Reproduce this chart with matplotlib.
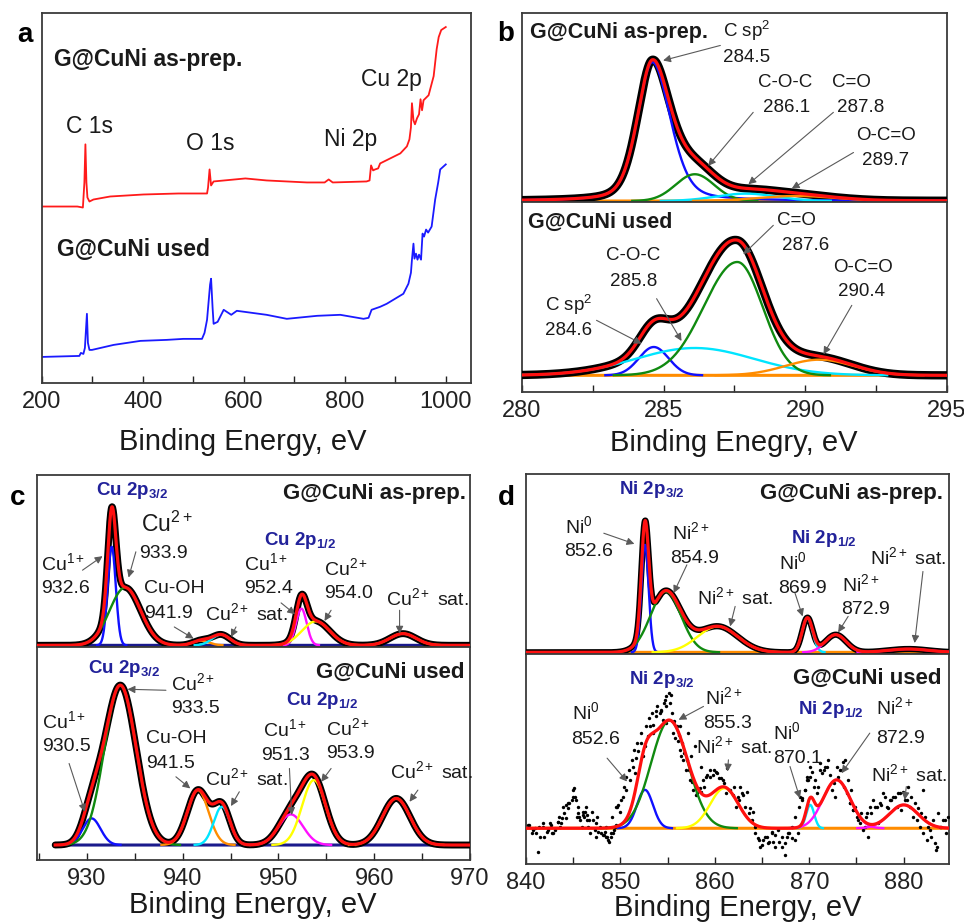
import numpy as np
import matplotlib
matplotlib.use('Agg')
import matplotlib.pyplot as plt
from matplotlib.ticker import MultipleLocator

plt.rcParams['font.family'] = ['Liberation Sans', 'DejaVu Sans']
plt.rcParams['mathtext.fontset'] = 'custom'
plt.rcParams['mathtext.rm'] = 'Liberation Sans'
plt.rcParams['mathtext.it'] = 'Liberation Sans:italic'
plt.rcParams['mathtext.bf'] = 'Liberation Sans:bold'

# ---- survey spectra (a) ----
a_prep_be = [200, 270, 281, 284, 286, 288, 290, 294, 302, 335, 401, 470, 527, 529, 532, 535, 540,
             603, 645, 725, 760, 768, 776, 843, 849, 852, 856, 860, 866, 870, 910, 923, 928, 931,
             933, 936, 939, 943, 947, 950, 953, 956, 960, 966, 976, 982, 986, 991, 1000]
a_prep_int = [176, 176, 175, 200, 238, 200, 185, 181, 183, 186, 188, 189, 189, 195, 213, 197, 201,
              204, 202, 200, 200, 203, 200, 201, 202, 217, 212, 213, 214, 219, 229, 236, 243, 255,
              279, 262, 258, 264, 268, 283, 272, 282, 284, 287, 306, 333, 345, 352, 355]
a_used_be = [200, 274, 277, 282, 285, 289, 291, 294, 299, 342, 395, 447, 480, 517, 522, 527, 533,
             535, 538, 540, 548, 560, 575, 586, 645, 685, 745, 791, 837, 847, 853, 870, 883, 916,
             926, 931, 933, 936, 938, 941, 944, 947, 951, 954, 957, 961, 965, 972, 979, 985, 989, 1000]
a_used_int = [26, 27, 30, 29, 35, 69, 40, 33, 33, 38, 42, 43, 44, 44, 50, 63, 98,
              104, 75, 59, 61, 73, 68, 72, 68, 64, 67, 68, 64, 65, 73, 76, 79, 89,
              99, 110, 123, 139, 124, 129, 123, 128, 123, 149, 146, 153, 150, 156, 183, 200, 213, 218]

# ---- C 1s fits (b): centre, height, fwhm (low-BE side / high-BE side), lorentz fraction ----
b_prep_center = [284.6, 286.1, 287.9, 289.7]
b_prep_height = [415, 80, 22, 15]
b_prep_fwhm = [1.25, 1.6, 2.5, 3.2]
b_prep_fwhm_r = [1.5, 1.6, 2.5, 3.2]
b_prep_mix = [0.35, 0.0, 0.0, 0.0]
b_used_center = [284.65, 286.1, 287.6, 290.5]
b_used_height = [85, 82, 340, 47]
b_used_fwhm = [1.23, 4.9, 2.8, 2.8]
b_used_fwhm_r = [1.23, 4.9, 2.1, 2.8]
b_used_mix = [0.0, 0.0, 0.0, 0.0]

# ---- Cu 2p fits (c) ----
c_prep_center = [932.6, 934.0, 941.9, 944.0, 952.4, 953.9, 963.0]
c_prep_height = [295, 173, 14, 32, 110, 72, 35]
c_prep_fwhm = [1.0, 3.8, 2.0, 2.2, 1.3, 3.4, 3.2]
c_used_center = [930.5, 933.5, 941.6, 944.1, 951.3, 953.7, 962.3]
c_used_height = [80, 480, 165, 115, 92, 195, 140]
c_used_fwhm = [2.2, 3.9, 2.6, 2.0, 3.0, 2.9, 3.4]

# ---- Ni 2p fits (d) ----
d_prep_center = [852.6, 854.8, 860.3, 869.8, 872.8, 880.5]
d_prep_height = [323, 183, 78, 103, 53, 10]
d_prep_fwhm = [0.9, 3.8, 5.0, 1.3, 2.6, 5.0]
d_used_center = [852.6, 855.2, 861.0, 870.1, 872.9, 880.0]
d_used_height = [115, 323, 120, 70, 145, 70]
d_used_fwhm = [2.0, 4.6, 3.5, 1.0, 3.4, 3.6]

# noisy measured Ni 2p points of the used sample
d_used_be = [840.25, 840.60, 840.95, 841.30, 841.48, 841.83, 842.18, 842.54, 842.71, 843.06, 843.42,
             843.59, 843.77, 843.94, 844.23, 844.47, 844.82, 845.00, 845.18, 845.35, 845.53, 845.70,
             845.88, 846.06, 846.23, 846.41, 846.58, 846.76, 847.11, 847.29, 847.46, 847.64, 847.82,
             848.17, 848.35, 848.52, 848.70, 849.05, 849.23, 849.40, 849.58, 849.75, 849.93, 850.28,
             850.63, 850.99, 851.34, 851.50, 851.69, 851.87, 852.22, 852.40, 852.57, 852.92, 853.10,
             853.45, 853.45, 853.80, 854.15, 854.33, 854.51, 854.68, 854.86, 854.86, 855.21, 855.39,
             855.56, 855.74, 856.09, 856.27, 856.27, 856.44, 856.62, 856.97, 857.15, 857.32, 857.50,
             857.68, 857.85, 858.03, 858.38, 858.50, 858.73, 859.08, 859.44, 859.79, 860.14, 860.49,
             860.85, 861.20, 861.55, 861.90, 862.25, 862.43,
             862.68, 863.03, 863.38, 863.73, 864.09, 864.26, 864.61, 864.79, 865.14, 865.50, 865.67,
             866.02, 866.20, 866.38, 866.73, 867.08, 867.43, 867.61, 867.78, 868.14, 868.49, 868.84,
             869.02, 869.19, 869.54, 869.72, 869.90, 870.07, 870.25, 870.60, 870.95, 871.13, 871.30,
             871.66, 872.01, 872.36, 872.71, 873.07, 873.42, 873.59, 873.77, 874.12, 874.30, 874.47,
             874.65, 874.83, 875.18, 875.53, 875.88, 876.06, 876.23, 876.59, 876.94, 877.29, 877.64,
             878.00, 878.35, 878.70, 879.05, 879.40, 879.76, 880.11, 880.46, 880.81, 881.16, 881.52,
             881.87, 882.04, 882.22, 882.57, 882.92, 883.28, 883.45, 883.63, 883.98, 884.33, 884.68,
             840.35, 840.70, 841.06, 841.41, 841.76, 841.94, 842.29, 842.64, 842.82, 843.35, 843.52,
             843.70, 844.05, 844.23, 844.40, 844.58, 844.93, 845.11, 845.28, 845.46, 845.63, 845.99,
             846.16, 846.34, 846.51, 846.69, 847.04, 847.39, 847.57, 847.92, 848.27, 848.63, 848.80,
             848.98, 849.33, 849.51, 848.45, 849.15, 849.68, 850.04, 850.39, 850.56, 850.92, 851.27,
             851.44, 851.80, 852.15, 852.68, 853.03, 853.38, 853.73, 853.91, 854.26, 854.61, 854.79,
             855.14, 855.49, 855.67, 856.02, 856.20, 856.55, 856.73, 857.08, 857.25, 857.61, 857.96,
             858.13, 858.49, 858.84, 859.19, 859.54, 859.89, 860.25, 860.60, 860.95, 861.30, 861.65,
             862.01, 862.54, 862.89, 863.24, 863.59, 863.94, 864.30, 864.65, 865.00, 865.35, 865.70,
             866.06, 866.41, 866.76, 867.11, 867.46, 867.82, 868.17, 868.52, 868.87, 869.23, 869.58,
             869.75, 870.11, 870.46, 870.81, 871.16, 871.51, 871.87, 872.22, 872.57, 872.92, 873.27,
             873.63, 873.98, 874.33, 874.68, 875.04, 875.39, 875.74, 876.09, 876.44, 876.80, 877.15,
             877.50, 877.85, 878.20, 878.56, 878.91, 879.26, 879.61, 879.96, 880.32, 880.67, 881.02,
             881.37, 881.73, 882.08, 882.43, 882.78, 883.13, 883.49, 883.84, 884.19, 884.44]
d_used_int = [10, -15, 0, -70, -25, 5, -10, 15, -15, -5, 20,
              5, 30, 65, 70, 75, 85, 115, 95, 35, 45, 25,
              5, 40, 50, 25, 5, -15, 25, -5, -25, -10, 5,
              -20, -10, -25, -35, -25, -15, 5, 65, 70, 50, 95,
              115, 145, 185, 165, 210, 230, 255, 215, 245, 275, 305,
              310, 285, 335, 345, 350, 325, 385, 365, 315, 375, 400,
              285, 270, 260, 235, 305, 215, 205, 175, 285, 145, 215,
              115, 245, 100, 120, 185, 145, 155, 175, 160, 170, 150,
              145, 105, 115, 100, 65, 95,
              125, 100, 110, 60, 50, 5, -30, -55, -35, -25, -45,
              -10, -40, -20, -5, -55, -80, -25, -15, -30, -35, -15,
              95, 90, 115, 155, 145, 185, 170, 145, 125, 195, 165,
              185, 205, 115, 95, 155, 175, 200, 205, 145, 75, 115,
              55, 65, 25, 45, 5, 35, -25, 45, 65, 15, 70,
              95, 60, 85, 95, 105, 55, 85, 125, 95, 75, 60,
              45, 115, 35, 5, -25, -45, -65, 45, 5, 25, 35,
              10, -5, -15, 5, 15, -25, -5, 10, -15, 20, 35,
              15, 45, 30, 60, 75, 95, 120, 85, 65, 35, 50,
              35, 65, 40, 25, 50, 15, 35, -15, -20, -25, -40,
              -15, -5, 10, 5, 35, 65, 85, 125, 155, 175, 205,
              235, 255, 285, 305, 330, 345, 350, 365, 355, 375, 395,
              405, 345, 320, 305, 280, 255, 225, 205, 175, 140, 120,
              105, 110, 125, 160, 155, 175, 165, 150, 135, 180, 115,
              125, 85, 105, 65, 45, 25, -15, -35, -50, -25, -40,
              -15, -55, -40, -25, -45, -15, 5, 35, 65, 85, 115,
              145, 155, 125, 105, 175, 175, 185, 160, 135, 185, 175,
              125, 105, 75, 55, 35, 15, -5, 45, 65, 85, 65,
              75, 105, 65, 85, 95, 65, 105, 110, 85, 65, 35,
              25, 5, -15, -35, -5, 25, -55, 5, 25, -15]

W, H = 964, 923
fig = plt.figure(figsize=(9.64, 9.23), dpi=100)


def add_ax(l, t, r, b):
    return fig.add_axes([l / W, 1 - b / H, (r - l) / W, (b - t) / H])


def style(ax, lo, hi, major, minor, labels=True):
    ax.set_xlim(lo, hi)
    ax.set_yticks([])
    ax.xaxis.set_major_locator(MultipleLocator(major))
    ax.xaxis.set_minor_locator(MultipleLocator(minor))
    ax.tick_params(axis='x', which='both', direction='in', length=5, width=1,
                   labelsize=17, pad=6, top=False, colors='#222222')
    if not labels:
        ax.tick_params(axis='x', which='both', bottom=False, labelbottom=False)
    for s in ax.spines.values():
        s.set_linewidth(1.3)
        s.set_color('#3a3a3a')


def peak(x, c, h, wl, wr, m=0.0):
    w = np.where(x < c, wl, wr)
    g = np.exp(-4 * np.log(2) * ((x - c) / w) ** 2)
    l = 1 / (1 + 4 * ((x - c) / w) ** 2)
    return h * ((1 - m) * g + m * l)


def draw_fit(ax, lo, hi, centers, heights, fwhms, colors, base_color, fwhms_r=None, mixes=None, data_lw=5.5):
    x = np.linspace(lo, hi, 1500)
    if mixes is None:
        mixes = [0.0] * len(centers)
    if fwhms_r is None:
        fwhms_r = fwhms
    comps = [peak(x, c, h, wl, wr, m) for c, h, wl, wr, m in zip(centers, heights, fwhms, fwhms_r, mixes)]
    total = np.sum(comps, axis=0)
    ax.plot(x, np.zeros_like(x), color=base_color, lw=2.2, zorder=2)
    if data_lw:
        ax.plot(x, total, color='black', lw=data_lw, zorder=3, solid_capstyle='round')
    for comp, col in zip(comps, colors):
        ax.plot(x, np.where(comp > 0.4, comp, np.nan), color=col, lw=1.7, zorder=4)
    ax.plot(x, total, color='#ff1010', lw=2.3, zorder=5)


def put(ax, items, size=13.5, **kw):
    for t, x, y in items:
        ax.text(x, y, t, fontsize=size, ha='left', va='center', color='#1a1a1a', zorder=6, **kw)


def arrows(ax, items):
    for x0, y0, x1, y1 in items:
        ax.annotate('', xy=(x1, y1), xytext=(x0, y0), zorder=6,
                    arrowprops=dict(arrowstyle='-|>', color='#5a5a5a', lw=0.8,
                                    mutation_scale=11, shrinkA=0, shrinkB=0))


blue, green, cyan, orange, magenta, yellow = '#1010ff', '#108a10', '#00e5ff', '#ff8c00', '#ff10ff', '#ffff00'
navy = '#1a1a8c'
hdr = '#22229a'

# ===== panel a =====
ax = add_ax(42, 13, 471, 383)
style(ax, 200, 1050, 200, 100)
ax.set_ylim(0, 369)
ax.plot(a_prep_be, a_prep_int, color='#ff1a1a', lw=1.3)
ax.plot(a_used_be, a_used_int, color='#1a1aff', lw=1.3)
ax.text(223, 323, 'G@CuNi as-prep.', fontsize=16.5, fontweight='bold', va='center', color='#1a1a1a')
ax.text(230, 133, 'G@CuNi used', fontsize=16.5, fontweight='bold', va='center', color='#1a1a1a')
put(ax, [('C 1s', 247, 256), ('O 1s', 485, 239), ('Ni 2p', 759, 243), ('Cu 2p', 832, 303)], size=16.5)

# ===== panel b =====
bt = add_ax(522, 13, 947, 202)
bb = add_ax(522, 202, 947, 392)
style(bt, 280, 295, 5, 2.5, labels=False)
style(bb, 280, 295, 5, 2.5)
bt.set_ylim(-3, 562)
bb.set_ylim(-50, 520)
draw_fit(bt, 280, 295, b_prep_center, b_prep_height, b_prep_fwhm, [blue, green, cyan, orange], orange,
         b_prep_fwhm_r, b_prep_mix, 6)
draw_fit(bb, 280, 295, b_used_center, b_used_height, b_used_fwhm, [blue, cyan, green, orange], orange,
         b_used_fwhm_r, b_used_mix, 6)
bt.text(280.27, 505, 'G@CuNi as-prep.', fontsize=15.5, fontweight='bold', va='center', color='#1a1a1a')
bb.text(280.21, 460, 'G@CuNi used', fontsize=15.5, fontweight='bold', va='center', color='#1a1a1a')
put(bt, [('C sp$^2$', 287.1, 507), ('284.5', 287.1, 430), ('C-O-C', 288.34, 355), ('286.1', 288.49, 280),
         ('C=O', 290.93, 355), ('287.8', 291.11, 280), ('O-C=O', 291.81, 195), ('289.7', 291.99, 120)])
arrows(bt, [(287.0, 465, 284.98, 420), (288.16, 265, 286.57, 105), (290.99, 265, 287.99, 50),
            (291.70, 145, 289.52, 37)])
put(bb, [('C=O', 288.99, 465), ('287.6', 289.16, 390), ('C-O-C', 282.98, 360), ('285.8', 283.12, 280),
         ('C sp$^2$', 280.8, 212), ('284.6', 280.8, 135), ('O-C=O', 290.99, 325), ('290.4', 291.17, 250)])
arrows(bb, [(288.87, 450, 287.81, 363), (284.75, 230, 285.63, 103), (282.63, 165, 284.22, 95),
            (291.64, 210, 290.64, 63)])

# ===== panel c =====
ct = add_ax(37, 475, 470, 647)
cb = add_ax(37, 647, 470, 860)
style(ct, 924.8, 970, 10, 5, labels=False)
style(cb, 924.8, 970, 10, 5)
ct.set_ylim(-5, 510)
cb.set_ylim(-45, 595)
c_cols = [blue, green, orange, cyan, magenta, yellow, yellow]
draw_fit(ct, 924.8, 970, c_prep_center, c_prep_height, c_prep_fwhm, c_cols, navy, data_lw=5)
draw_fit(cb, 926.7, 970, c_used_center, c_used_height, c_used_fwhm, c_cols, navy, data_lw=5)
ct.text(930.94, 465, 'Cu 2p$_{\\mathbf{3/2}}$', fontsize=13.5, fontweight='bold', va='center', color=hdr)
ct.text(948.54, 315, 'Cu 2p$_{\\mathbf{1/2}}$', fontsize=13.5, fontweight='bold', va='center', color=hdr)
ct.text(969.6, 455, 'G@CuNi as-prep.', fontsize=16, fontweight='bold', ha='right', va='center', color='#1a1a1a')
ct.text(935.64, 362, 'Cu$^{2+}$', fontsize=16.5, va='center', color='#1a1a1a')
put(ct, [('933.9', 935.47, 275), ('Cu$^{1+}$', 925.19, 247), ('932.6', 925.19, 170),
         ('Cu-OH', 935.99, 170), ('941.9', 935.99, 95), ('Cu$^{2+}$ sat.', 942.33, 97),
         ('Cu$^{1+}$', 946.45, 247), ('952.4', 946.45, 170), ('Cu$^{2+}$', 954.81, 232),
         ('954.0', 954.81, 155), ('Cu$^{2+}$ sat.', 961.25, 142)], size=14)
arrows(ct, [(935.12, 280, 934.36, 203), (929.55, 225, 931.64, 267), (939.13, 55, 941.15, 20),
            (945.57, 55, 945.05, 25), (950.28, 127, 951.74, 93), (955.5, 105, 954.81, 73),
            (962.65, 105, 962.65, 35)])
cb.text(930.14, 530, 'Cu 2p$_{\\mathbf{3/2}}$', fontsize=13.5, fontweight='bold', va='center', color=hdr)
cb.text(950.8, 435, 'Cu 2p$_{\\mathbf{1/2}}$', fontsize=13.5, fontweight='bold', va='center', color=hdr)
cb.text(969.44, 518, 'G@CuNi used', fontsize=16, fontweight='bold', ha='right', va='center', color='#1a1a1a')
put(cb, [('Cu$^{2+}$', 938.78, 487), ('933.5', 938.78, 410), ('Cu$^{1+}$', 925.37, 372), ('930.5', 925.37, 295),
         ('Cu-OH', 936.17, 320), ('941.5', 936.17, 245), ('Cu$^{2+}$ sat.', 942.33, 202),
         ('Cu$^{1+}$', 948.36, 347), ('951.3', 948.19, 270), ('Cu$^{2+}$', 954.98, 352), ('953.9', 954.98, 275),
         ('Cu$^{2+}$ sat.', 961.6, 222)], size=14)
arrows(cb, [(938.26, 465, 934.25, 468), (928.15, 245, 929.79, 100), (939.3, 205, 940.8, 170),
            (945.92, 160, 945.05, 117), (951.15, 230, 951.39, 90), (955.5, 230, 954.46, 190),
            (964.56, 165, 963.69, 130)])

# ===== panel d =====
dt = add_ax(526, 474, 949, 654)
db = add_ax(526, 654, 949, 864)
style(dt, 840, 884.8, 10, 5, labels=False)
style(db, 840, 884.8, 10, 5)
dt.set_ylim(-5, 536)
db.set_ylim(-107, 522)
d_cols = [blue, green, yellow, cyan, magenta, magenta]
draw_fit(dt, 840, 884.8, d_prep_center, d_prep_height, d_prep_fwhm, d_cols, orange, data_lw=4.5)
db.scatter(d_used_be, d_used_int, s=6, color='black', zorder=3, linewidths=0)
draw_fit(db, 840, 884.8, d_used_center, d_used_height, d_used_fwhm, d_cols, orange, data_lw=0)
dt.text(849.82, 488, 'Ni 2p$_{\\mathbf{3/2}}$', fontsize=13.5, fontweight='bold', va='center', color=hdr)
dt.text(868.06, 343, 'Ni 2p$_{\\mathbf{1/2}}$', fontsize=13.5, fontweight='bold', va='center', color=hdr)
dt.text(884.15, 478, 'G@CuNi as-prep.', fontsize=16, fontweight='bold', ha='right', va='center', color='#1a1a1a')
put(dt, [('Ni$^0$', 844.08, 380), ('852.6', 844.01, 303), ('Ni$^{2+}$', 855.46, 360), ('854.9', 855.28, 283),
         ('Ni$^{2+}$ sat.', 858.1, 165), ('Ni$^0$', 866.83, 270), ('869.9', 866.73, 193),
         ('Ni$^{2+}$', 873.52, 205), ('872.9', 873.42, 128), ('Ni$^{2+}$ sat.', 876.41, 285)], size=14)
arrows(dt, [(848.24, 358, 851.48, 326), (857.04, 263, 855.63, 178), (862.15, 138, 861.62, 78),
            (868.49, 178, 869.3, 108), (874.12, 108, 873.06, 60), (882.04, 243, 881.16, 28)])
db.text(850.88, 445, 'Ni 2p$_{\\mathbf{3/2}}$', fontsize=13.5, fontweight='bold', va='center', color=hdr)
db.text(868.84, 355, 'Ni 2p$_{\\mathbf{1/2}}$', fontsize=13.5, fontweight='bold', va='center', color=hdr)
db.text(883.98, 450, 'G@CuNi used', fontsize=16, fontweight='bold', ha='right', va='center', color='#1a1a1a')
put(db, [('Ni$^0$', 844.89, 347), ('852.6', 844.79, 265), ('Ni$^{2+}$', 858.98, 392), ('855.3', 858.8, 315),
         ('Ni$^{2+}$ sat.', 857.99, 247), ('Ni$^0$', 866.2, 287), ('870.1', 866.13, 210),
         ('Ni$^{2+}$', 877.11, 362), ('872.9', 877.11, 270), ('Ni$^{2+}$ sat.', 876.58, 162)], size=14)
arrows(db, [(848.59, 210, 850.7, 140), (858.8, 365, 856.16, 325), (861.44, 205, 861.34, 170),
            (867.96, 185, 869.01, 90), (876.41, 285, 873.42, 165), (880.28, 125, 880.11, 85)])

# axis titles and panel letters
for x, y, t in [(243, 442, 'Binding Energy, eV'), (734, 443, 'Binding Enegry, eV'),
                (253, 905, 'Binding Energy, eV'), (738, 908, 'Binding Energy, eV')]:
    fig.text(x / W, 1 - y / H, t, fontsize=21, ha='center', va='center', color='#1a1a1a')
for x, y, t in [(25, 35, 'a'), (506, 34, 'b'), (18, 498, 'c'), (506, 498, 'd')]:
    fig.text(x / W, 1 - y / H, t, fontsize=20, fontweight='bold', ha='center', va='center')

fig.savefig('out.png', dpi=100)
